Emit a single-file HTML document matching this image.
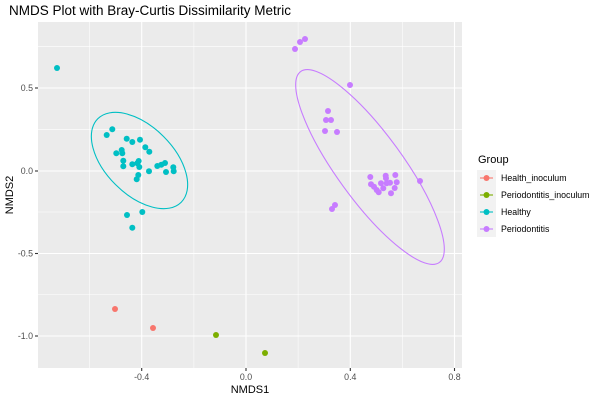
<!DOCTYPE html>
<html><head><style>body{margin:0;background:#fff}svg{display:block}</style></head><body>
<svg width="600" height="400" xmlns="http://www.w3.org/2000/svg" font-family="Liberation Sans, sans-serif">
<rect width="600" height="400" fill="#fff"/>
<text x="9" y="15" font-size="13.5" fill="#000">NMDS Plot with Bray-Curtis Dissimilarity Metric</text>
<rect x="38" y="22" width="424" height="346" fill="#ebebeb"/>
<g stroke="#fff" stroke-width="0.55">
<line x1="89.6" y1="22" x2="89.6" y2="368"/><line x1="193.9" y1="22" x2="193.9" y2="368"/><line x1="298.1" y1="22" x2="298.1" y2="368"/><line x1="402.4" y1="22" x2="402.4" y2="368"/>
<line x1="38" y1="46.7" x2="462" y2="46.7"/><line x1="38" y1="129.7" x2="462" y2="129.7"/><line x1="38" y1="212" x2="462" y2="212"/><line x1="38" y1="294.5" x2="462" y2="294.5"/>
</g>
<g stroke="#fff" stroke-width="1.1">
<line x1="141.7" y1="22" x2="141.7" y2="368"/><line x1="246" y1="22" x2="246" y2="368"/><line x1="350.3" y1="22" x2="350.3" y2="368"/><line x1="454.5" y1="22" x2="454.5" y2="368"/>
<line x1="38" y1="88" x2="462" y2="88"/><line x1="38" y1="171" x2="462" y2="171"/><line x1="38" y1="253.5" x2="462" y2="253.5"/><line x1="38" y1="336" x2="462" y2="336"/>
</g>
<g stroke="#333" stroke-width="1.1">
<line x1="141.7" y1="368" x2="141.7" y2="371"/><line x1="246" y1="368" x2="246" y2="371"/><line x1="350.3" y1="368" x2="350.3" y2="371"/><line x1="454.5" y1="368" x2="454.5" y2="371"/>
<line x1="35" y1="88" x2="38" y2="88"/><line x1="35" y1="171" x2="38" y2="171"/><line x1="35" y1="253.5" x2="38" y2="253.5"/><line x1="35" y1="336" x2="38" y2="336"/>
</g>
<g font-size="8.8" fill="#4d4d4d" text-anchor="middle">
<text x="141.7" y="380">-0.4</text><text x="246" y="380">0.0</text><text x="350.3" y="380">0.4</text><text x="454.5" y="380">0.8</text>
</g>
<g font-size="8.8" fill="#4d4d4d" text-anchor="end">
<text x="33" y="91">0.5</text><text x="33" y="174">0.0</text><text x="33" y="256.5">-0.5</text><text x="33" y="339">-1.0</text>
</g>
<text x="250" y="393" font-size="11" text-anchor="middle">NMDS1</text>
<text x="13" y="195" font-size="11" text-anchor="middle" transform="rotate(-90 13 195)">NMDS2</text>
<ellipse cx="139.5" cy="160.5" rx="59" ry="34" transform="rotate(45 139.5 160.5)" fill="none" stroke="#00BFC4" stroke-width="1.1"/>
<ellipse cx="370" cy="167" rx="118" ry="33" transform="rotate(54 370 167)" fill="none" stroke="#C77CFF" stroke-width="1.1"/>
<g fill="#00BFC4">
<circle cx="57" cy="68" r="3"/><circle cx="106.7" cy="135" r="3"/><circle cx="112.3" cy="129.3" r="3"/><circle cx="126.7" cy="138.7" r="3"/><circle cx="132.3" cy="142" r="3"/><circle cx="140" cy="139.7" r="3"/><circle cx="145.3" cy="147.3" r="3"/><circle cx="149.3" cy="151.7" r="3"/><circle cx="116.3" cy="153.3" r="3"/><circle cx="121.7" cy="150" r="3"/><circle cx="122.3" cy="153.3" r="3"/><circle cx="123.3" cy="160.7" r="3"/><circle cx="123.3" cy="166.3" r="3"/><circle cx="132.3" cy="164.3" r="3"/><circle cx="138.7" cy="161" r="3"/><circle cx="137.3" cy="163.3" r="3"/><circle cx="139.3" cy="167" r="3"/><circle cx="149" cy="171.3" r="3"/><circle cx="157.3" cy="166" r="3"/><circle cx="161.3" cy="164.7" r="3"/><circle cx="165" cy="163" r="3"/><circle cx="173.3" cy="167.3" r="3"/><circle cx="173.7" cy="171.3" r="3"/><circle cx="166" cy="172" r="3"/><circle cx="138.3" cy="175" r="3"/><circle cx="136.7" cy="179.3" r="3"/><circle cx="127" cy="215" r="3"/><circle cx="142.3" cy="212" r="3"/><circle cx="132.3" cy="227.7" r="3"/>
</g>
<g fill="#C77CFF">
<circle cx="295" cy="49" r="3"/><circle cx="300" cy="42" r="3"/><circle cx="305" cy="39" r="3"/><circle cx="350" cy="85" r="3"/><circle cx="328" cy="111" r="3"/><circle cx="326" cy="120" r="3"/><circle cx="331" cy="120" r="3"/><circle cx="337" cy="132" r="3"/><circle cx="325" cy="131" r="3"/><circle cx="420" cy="181" r="3"/><circle cx="335" cy="205" r="3"/><circle cx="332" cy="209" r="3"/>
<circle cx="370.3" cy="177" r="3"/><circle cx="371" cy="184.3" r="3"/><circle cx="374" cy="186.7" r="3"/><circle cx="378.7" cy="192.3" r="3"/><circle cx="376.7" cy="190" r="3"/><circle cx="381" cy="183.3" r="3"/><circle cx="385.7" cy="175.7" r="3"/><circle cx="386" cy="178.3" r="3"/><circle cx="386.7" cy="183.3" r="3"/><circle cx="390" cy="182.7" r="3"/><circle cx="391" cy="193.3" r="3"/><circle cx="395.3" cy="175" r="3"/><circle cx="396.7" cy="182.3" r="3"/><circle cx="394.7" cy="188" r="3"/><circle cx="383.3" cy="188.3" r="3"/>
</g>
<g fill="#F8766D"><circle cx="115" cy="309" r="3"/><circle cx="153" cy="328" r="3"/></g>
<g fill="#7CAE00"><circle cx="216" cy="335" r="3"/><circle cx="265" cy="353" r="3"/></g>
<text x="478" y="163" font-size="11">Group</text>
<rect x="477" y="170" width="19" height="67" fill="#f2f2f2"/>
<g stroke-width="1.1">
<line x1="480" y1="178" x2="493" y2="178" stroke="#F8766D"/><circle cx="486.5" cy="178" r="3" fill="#F8766D"/>
<line x1="480" y1="195" x2="493" y2="195" stroke="#7CAE00"/><circle cx="486.5" cy="195" r="3" fill="#7CAE00"/>
<line x1="480" y1="212" x2="493" y2="212" stroke="#00BFC4"/><circle cx="486.5" cy="212" r="3" fill="#00BFC4"/>
<line x1="480" y1="229" x2="493" y2="229" stroke="#C77CFF"/><circle cx="486.5" cy="229" r="3" fill="#C77CFF"/>
</g>
<g font-size="8.8" fill="#000">
<text x="501" y="181">Health_inoculum</text><text x="501" y="198">Periodontitis_inoculum</text><text x="501" y="215">Healthy</text><text x="501" y="232">Periodontitis</text>
</g>
</svg>
</body></html>
